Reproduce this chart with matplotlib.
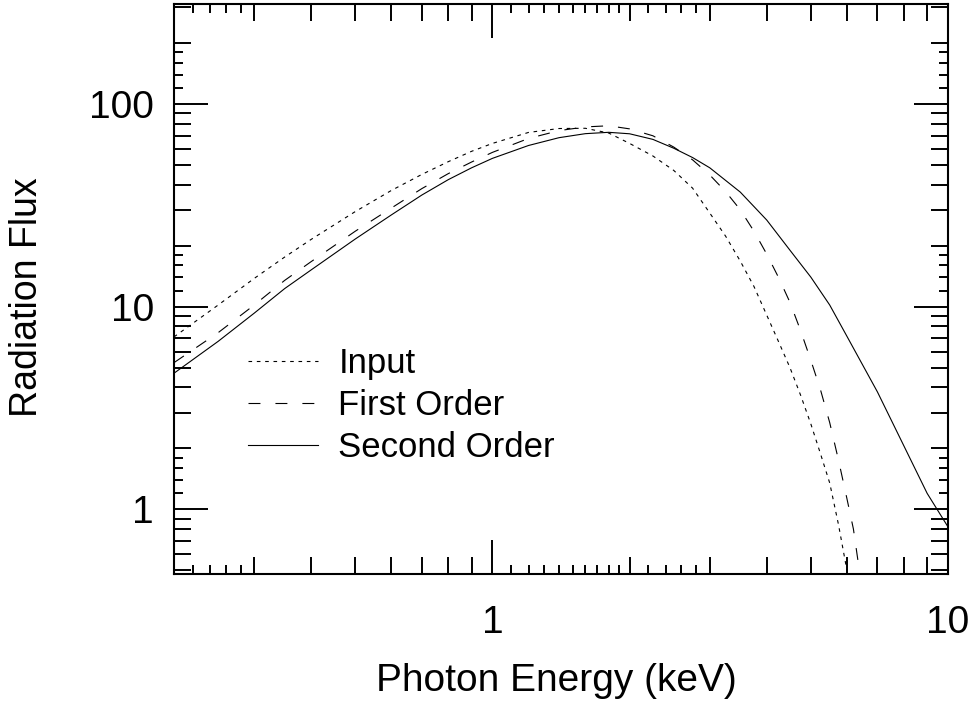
import matplotlib
matplotlib.use("Agg")
import matplotlib.pyplot as plt
from matplotlib.ticker import NullFormatter, NullLocator

plt.rcParams['font.family'] = ['Liberation Sans', 'DejaVu Sans']
plt.rcParams['lines.scale_dashes'] = False

# Spectra (photon energy in keV, radiation flux)
energy_input = [0.2, 0.25, 0.3, 0.35, 0.4, 0.5, 0.6, 0.7, 0.8, 0.9, 1.0, 1.2, 1.4,
                1.6, 1.8, 2.0, 2.25, 2.5, 2.75, 3.0, 3.25, 3.5, 3.75, 4.0, 4.25,
                4.5, 4.75, 5.0, 5.25, 5.5, 5.75, 6.0]
flux_input = [7.1, 10.2, 13.8, 17.6, 21.5, 29.5, 37.5, 45.0, 52.0, 58.5, 64.0, 72.5, 75.8,
              76.0, 72.0, 64.0, 55.5, 47.1, 38.5, 29.0, 22.3, 16.8, 12.6, 9.1, 6.7,
              5.0, 3.65, 2.64, 1.88, 1.35, 0.84, 0.5]

energy_first = [0.2, 0.25, 0.3, 0.35, 0.4, 0.5, 0.6, 0.7, 0.8, 0.9, 1.0, 1.2, 1.4,
                1.6, 1.8, 2.0, 2.25, 2.5, 2.75, 3.0, 3.25, 3.5, 3.75, 4.0, 4.25,
                4.5, 4.75, 5.0, 5.25, 5.5, 5.75, 6.0, 6.2, 6.35]
flux_first = [5.3, 7.45, 10.2, 13.5, 16.7, 23.6, 30.7, 38.3, 45.4, 51.8, 57.8, 67.7, 74.0,
              77.2, 78.2, 75.5, 69.8, 61.4, 53.1, 44.7, 37.0, 30.1, 23.6, 18.2, 13.9,
              10.5, 7.6, 5.44, 3.89, 2.68, 1.75, 1.13, 0.80, 0.55]

energy_second = [0.2, 0.25, 0.3, 0.35, 0.4, 0.5, 0.6, 0.7, 0.8, 0.9, 1.0, 1.2, 1.4,
                 1.6, 1.8, 2.0, 2.25, 2.5, 2.75, 3.0, 3.5, 4.0, 4.5, 5.0, 5.5, 6.0,
                 7.0, 8.0, 9.0, 10.0]
flux_second = [4.7, 6.75, 9.3, 12.3, 15.2, 21.6, 28.4, 35.6, 42.4, 48.5, 54.0, 62.5, 68.3,
               71.5, 72.6, 71.4, 67.0, 60.6, 54.5, 48.5, 36.8, 26.8, 19.0, 14.0, 10.2, 7.15,
               3.8, 2.06, 1.2, 0.82]

series_labels = ["Input", "First Order", "Second Order"]

# Tick positions
x_major = [1, 10]
x_major_labels = ["1", "10"]
x_minor = [0.2, 0.3, 0.4, 0.5, 0.6, 0.7, 0.8, 0.9, 2, 3, 4, 5, 6, 7, 8, 9]
x_fine = [0.22, 0.24, 0.26, 0.28, 1.1, 1.2, 1.3, 1.4, 1.5, 1.6, 1.7, 1.8, 1.9,
          2.2, 2.4, 2.6, 2.8]
y_major = [1, 10, 100]
y_major_labels = ["1", "10", "100"]
y_minor = [0.5, 0.6, 0.7, 0.8, 0.9, 2, 3, 4, 5, 6, 7, 8, 9,
           20, 30, 40, 50, 60, 70, 80, 90, 200, 300]
y_fine = [1.2, 1.4, 1.6, 1.8, 12, 14, 16, 18, 120, 140, 160, 180]

x_range = (0.2, 10)
y_range = (0.48, 312)

W, H, DPI = 974, 704, 100
fig = plt.figure(figsize=(W / DPI, H / DPI), dpi=DPI)
L, R, T, B = 174, 948, 4, 574
rect = [L / W, 1 - B / H, (R - L) / W, (B - T) / H]

ax = fig.add_axes(rect)
ax.set_xscale('log')
ax.set_yscale('log')
ax.set_xlim(*x_range)
ax.set_ylim(*y_range)

lw = 0.8
ax.plot(energy_input, flux_input, color='black', lw=lw, dashes=(2.6, 3.4),
        label=series_labels[0])
ax.plot(energy_first, flux_first, color='black', lw=lw, dashes=(8.6, 10.8),
        label=series_labels[1])
ax.plot(energy_second, flux_second, color='black', lw=lw, label=series_labels[2])

ax.set_xticks(x_major)
ax.set_xticklabels(x_major_labels)
ax.set_xticks(x_minor, minor=True)
ax.set_yticks(y_major)
ax.set_yticklabels(y_major_labels)
ax.set_yticks(y_minor, minor=True)
ax.xaxis.set_minor_formatter(NullFormatter())
ax.yaxis.set_minor_formatter(NullFormatter())

for s in ax.spines.values():
    s.set_linewidth(1.5)

ax.tick_params(which='both', direction='in', top=True, right=True, width=1.4,
               color='black')
ax.tick_params(which='major', length=24.5, labelsize=28)
ax.tick_params(which='minor', length=12.2)
ax.tick_params(axis='x', which='major', pad=22)
ax.tick_params(axis='y', which='major', pad=14.5)

# Overlay axes carrying the extra-short subdivision ticks
axf = fig.add_axes(rect, frameon=False)
axf.set_xscale('log')
axf.set_yscale('log')
axf.set_xlim(*x_range)
axf.set_ylim(*y_range)
axf.set_xticks(x_fine)
axf.set_yticks(y_fine)
axf.xaxis.set_minor_locator(NullLocator())
axf.yaxis.set_minor_locator(NullLocator())
axf.tick_params(which='major', direction='in', top=True, right=True, length=6.5,
                width=1.4, labelbottom=False, labelleft=False, color='black')
axf.patch.set_visible(False)

fig.text(556 / W, 1 - 681 / H, "Photon Energy (keV)", fontsize=28,
         ha='center', va='center')
fig.text(27 / W, 1 - 297 / H, "Radiation Flux", fontsize=27, rotation=90,
         ha='center', va='center')

ax.legend(loc='upper left', bbox_to_anchor=(248 / W, 1 - 347 / H),
          bbox_transform=fig.transFigure, frameon=False, fontsize=25,
          handlelength=2.02, handletextpad=0.58, labelspacing=0.26,
          borderpad=0, borderaxespad=0)

fig.savefig("out.png", dpi=DPI)
